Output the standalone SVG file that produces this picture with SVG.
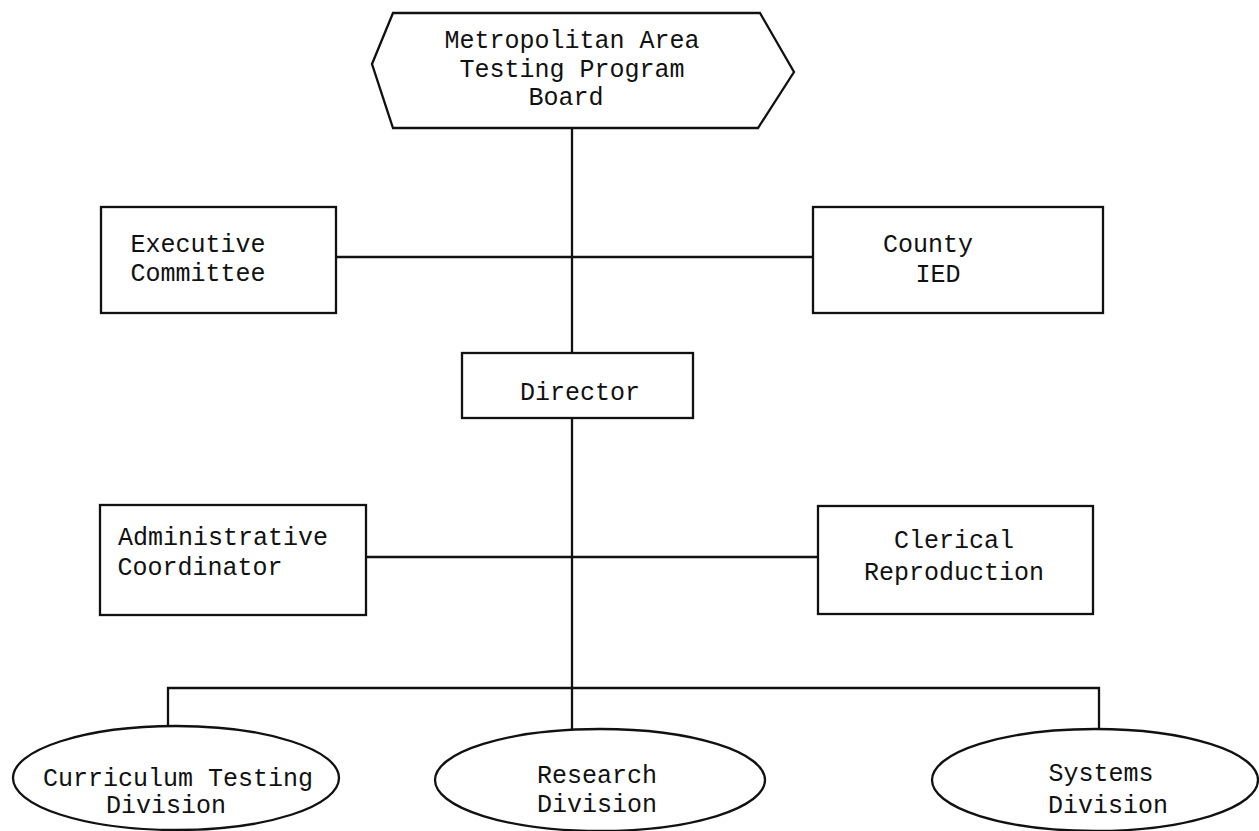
<svg xmlns="http://www.w3.org/2000/svg" width="1259" height="831" viewBox="0 0 1259 831">
<style>
.s{fill:#fff;stroke:#111;stroke-width:2.3}
.c{fill:none;stroke:#111;stroke-width:2.3}
text{font-family:"Liberation Mono","Courier New",monospace;font-size:25px;fill:#111;text-anchor:middle}
</style>
<rect width="1259" height="831" fill="#fff"/>
<g id="connectors">
<path class="c" d="M572 128V353"/>
<path class="c" d="M336 257H813"/>
<path class="c" d="M572 418V729"/>
<path class="c" d="M366 557H818"/>
<path class="c" d="M168 726V688H1099V729"/>
</g>
<g id="board">
<polygon class="s" points="372,64 393,13 760,13 794,72 758,128 393,128"/>
<text x="572" y="48">Metropolitan Area</text>
<text x="572" y="77">Testing Program</text>
<text x="566" y="105">Board</text>
</g>
<g id="executive">
<rect class="s" x="101" y="207" width="235" height="106"/>
<text x="198" y="252">Executive</text>
<text x="198" y="281">Committee</text>
</g>
<g id="county">
<rect class="s" x="813" y="207" width="290" height="106"/>
<text x="928" y="252">County</text>
<text x="938" y="282">IED</text>
</g>
<g id="director">
<rect class="s" x="462" y="353" width="231" height="65"/>
<text x="580" y="400">Director</text>
</g>
<g id="admin">
<rect class="s" x="100" y="505" width="266" height="110"/>
<text x="223" y="545">Administrative</text>
<text x="200" y="575">Coordinator</text>
</g>
<g id="clerical">
<rect class="s" x="818" y="506" width="275" height="108"/>
<text x="954" y="548">Clerical</text>
<text x="954" y="580">Reproduction</text>
</g>
<g id="curriculum">
<ellipse class="s" cx="176" cy="778" rx="163" ry="52"/>
<text x="178" y="786">Curriculum Testing</text>
<text x="166" y="813">Division</text>
</g>
<g id="research">
<ellipse class="s" cx="600" cy="780" rx="165" ry="51"/>
<text x="597" y="783">Research</text>
<text x="597" y="812">Division</text>
</g>
<g id="systems">
<ellipse class="s" cx="1095" cy="780" rx="163" ry="51"/>
<text x="1101" y="781">Systems</text>
<text x="1108" y="813">Division</text>
</g>
</svg>
